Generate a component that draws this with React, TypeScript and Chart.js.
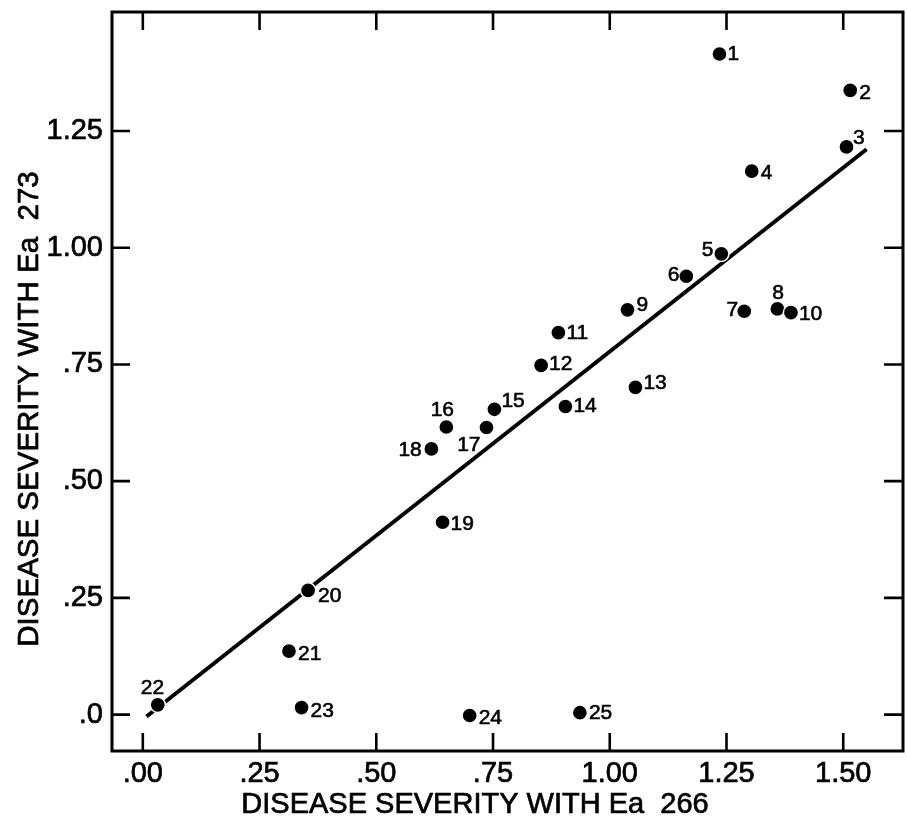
import React, { useEffect, useRef } from "react";
import { Chart, registerables } from "chart.js";

Chart.register(...registerables);

// ---------- data ----------
const POINT_IDS = [
  "1", "2", "3", "4", "5", "6", "7", "8", "9", "10",
  "11", "12", "13", "14", "15", "16", "17", "18", "19", "20",
  "21", "22", "23", "24", "25",
];
const SEVERITY_EA266 = [
  1.235, 1.515, 1.507, 1.304, 1.239, 1.164, 1.288, 1.359, 1.038, 1.388,
  0.89, 0.853, 1.055, 0.905, 0.753, 0.65, 0.736, 0.618, 0.642, 0.354,
  0.313, 0.032, 0.34, 0.7, 0.936,
];
const SEVERITY_EA273 = [
  1.415, 1.337, 1.216, 1.164, 0.987, 0.939, 0.864, 0.869, 0.867, 0.861,
  0.818, 0.748, 0.701, 0.66, 0.654, 0.616, 0.615, 0.569, 0.412, 0.266,
  0.136, 0.021, 0.015, -0.002, 0.004,
];
const FIT_X = [0.008, 1.55];
const FIT_Y = [-0.004, 1.211];

const X_TICK_VALUES = [0, 0.25, 0.5, 0.75, 1, 1.25, 1.5];
const X_TICK_LABELS = [".00", ".25", ".50", ".75", "1.00", "1.25", "1.50"];
const Y_TICK_VALUES = [0, 0.25, 0.5, 0.75, 1, 1.25];
const Y_TICK_LABELS = [".0", ".25", ".50", ".75", "1.00", "1.25"];

const X_TITLE = "DISEASE SEVERITY WITH Ea  266";
const Y_TITLE = "DISEASE SEVERITY WITH Ea  273";

// label placement relative to each marker: [textAlign, dx, dy(glyph centre)]
const LABEL_PLACE: [CanvasTextAlign, number, number][] = [
  ["left", 8, -2], ["left", 9, 1], ["left", 6.5, -10], ["left", 9, 0],
  ["right", -8, -5], ["right", -7, -2.3], ["right", -6, -2.3], ["center", 0.7, -17.3],
  ["left", 9, -6.7], ["left", 8, 0], ["left", 8, -1.3], ["left", 8, -2.7],
  ["left", 8, -5.6], ["left", 8, -2], ["left", 7, -9.7], ["center", -4, -18.5],
  ["right", -6, 16], ["right", -9.6, 0], ["left", 8, 0], ["left", 10, 4],
  ["left", 9, 1], ["center", -5.3, -18.5], ["left", 9, 1.5], ["left", 9, 1],
  ["left", 9, -1],
];

const FONT = "'Liberation Sans', Arial, Helvetica, sans-serif";

const framePlugin = {
  id: "frameAndLabels",
  afterDatasetsDraw(chart: any) {
    const { ctx, chartArea: a, scales } = chart;
    const xs = scales.x;
    const ys = scales.y;
    ctx.save();
    ctx.strokeStyle = "#000";
    ctx.lineCap = "butt";
    // frame
    ctx.lineWidth = 3;
    ctx.strokeRect(a.left, a.top, a.right - a.left, a.bottom - a.top);
    // inward ticks on all four sides
    const TL = 18;
    ctx.lineWidth = 2.6;
    ctx.beginPath();
    X_TICK_VALUES.forEach((v) => {
      const px = xs.getPixelForValue(v);
      ctx.moveTo(px, a.bottom);
      ctx.lineTo(px, a.bottom - TL);
      ctx.moveTo(px, a.top);
      ctx.lineTo(px, a.top + TL);
    });
    Y_TICK_VALUES.forEach((v) => {
      const py = ys.getPixelForValue(v);
      ctx.moveTo(a.left, py);
      ctx.lineTo(a.left + TL, py);
      ctx.moveTo(a.right, py);
      ctx.lineTo(a.right - TL - 1, py);
    });
    ctx.stroke();

    // point labels
    const meta = chart.getDatasetMeta(0);
    const fs = 21;
    ctx.fillStyle = "#000";
    ctx.font = `${fs}px ${FONT}`;
    ctx.textBaseline = "alphabetic";
    ctx.lineWidth = 0.6;
    ctx.lineJoin = "round";
    meta.data.forEach((el: any, i: number) => {
      const [align, dx, dy] = LABEL_PLACE[i];
      ctx.textAlign = align;
      const tx = el.x + dx;
      const ty = el.y + dy + 0.358 * fs;
      ctx.fillText(POINT_IDS[i], tx, ty);
      ctx.strokeText(POINT_IDS[i], tx, ty);
    });

    // axis titles
    ctx.font = `29px ${FONT}`;
    ctx.textAlign = "center";
    ctx.textBaseline = "middle";
    ctx.lineWidth = 0.7;
    ctx.fillText(X_TITLE, 475, 805);
    ctx.strokeText(X_TITLE, 475, 805);
    ctx.translate(30, 409);
    ctx.rotate(-Math.PI / 2);
    ctx.font = `29.5px ${FONT}`;
    ctx.fillText(Y_TITLE, 0, 0);
    ctx.strokeText(Y_TITLE, 0, 0);
    ctx.restore();
  },
};

const zeroPad = (s: any) => {
  s.paddingTop = 0;
  s.paddingBottom = 0;
  s.paddingLeft = 0;
  s.paddingRight = 0;
};

export default function App() {
  const ref = useRef<HTMLCanvasElement | null>(null);

  useEffect(() => {
    if (!ref.current) return;
    Chart.defaults.font.family = FONT;
    const chart = new Chart(ref.current, {
      type: "scatter",
      data: {
        datasets: [
          {
            type: "scatter",
            data: SEVERITY_EA266.map((x, i) => ({ x, y: SEVERITY_EA273[i] })),
            backgroundColor: "#000",
            borderColor: "#fff",
            borderWidth: 1.5,
            pointRadius: 7.6,
            pointHoverRadius: 7.6,
          },
          {
            type: "line",
            data: FIT_X.map((x, i) => ({ x, y: FIT_Y[i] })),
            borderColor: "#000",
            borderWidth: 4,
            pointRadius: 0,
            fill: false,
            tension: 0,
          } as any,
        ],
      },
      options: {
        animation: false,
        responsive: false,
        events: [],
        layout: { autoPadding: false, padding: { left: 0, top: 12, right: 4, bottom: 0 } },
        plugins: {
          legend: { display: false },
          tooltip: { enabled: false },
          title: { display: false },
        },
        scales: {
          x: {
            type: "linear",
            min: -0.066,
            max: 1.628,
            grid: { display: false, drawTicks: false },
            border: { display: false },
            afterBuildTicks: (s: any) => {
              s.ticks = X_TICK_VALUES.map((v) => ({ value: v }));
            },
            afterFit: (s: any) => {
              s.height = 68;
              zeroPad(s);
            },
            ticks: {
              autoSkip: false,
              maxRotation: 0,
              padding: 6,
              color: "#000",
              textStrokeColor: "#000",
              textStrokeWidth: 0.7,
              font: { size: 29, family: FONT },
              callback: (v: any) => {
                const i = X_TICK_VALUES.findIndex((t) => Math.abs(t - v) < 1e-9);
                return i >= 0 ? X_TICK_LABELS[i] : "";
              },
            },
          },
          y: {
            type: "linear",
            min: -0.078,
            max: 1.505,
            grid: { display: false, drawTicks: false },
            border: { display: false },
            afterBuildTicks: (s: any) => {
              s.ticks = Y_TICK_VALUES.map((v) => ({ value: v }));
            },
            afterFit: (s: any) => {
              s.width = 112;
              zeroPad(s);
            },
            ticks: {
              autoSkip: false,
              padding: 9,
              color: "#000",
              textStrokeColor: "#000",
              textStrokeWidth: 0.7,
              font: { size: 29, family: FONT },
              callback: (v: any) => {
                const i = Y_TICK_VALUES.findIndex((t) => Math.abs(t - v) < 1e-9);
                return i >= 0 ? Y_TICK_LABELS[i] : "";
              },
            },
          },
        },
      } as any,
      plugins: [framePlugin],
    });
    return () => chart.destroy();
  }, []);

  return (
    <div
      style={{
        position: "fixed",
        left: 0,
        top: 0,
        width: 907,
        height: 819,
        background: "#fff",
      }}
    >
      <canvas ref={ref} width={907} height={819} style={{ display: "block" }} />
    </div>
  );
}
